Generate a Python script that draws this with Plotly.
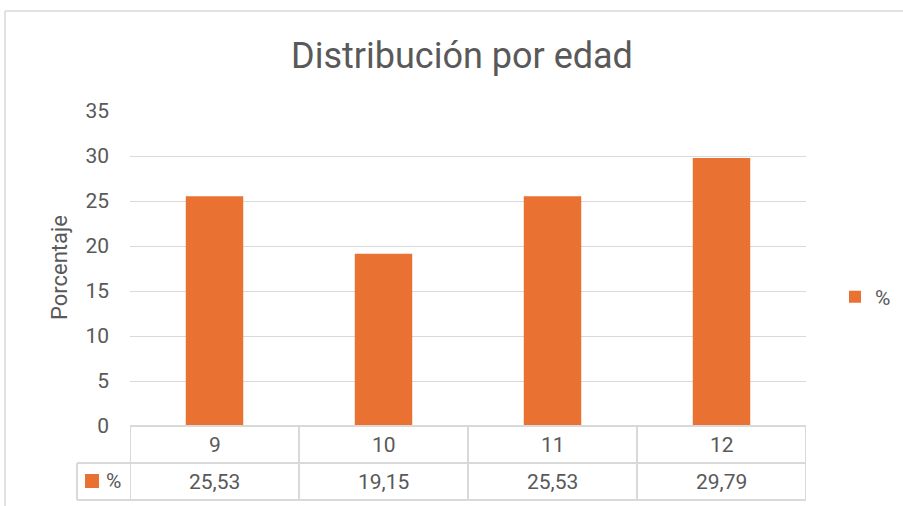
import plotly.graph_objects as go

# ---- data ----
categories = ["9", "10", "11", "12"]
values = [25.53, 19.15, 25.53, 29.79]
series_name = "%"
title_text = "Distribución por edad"
y_title = "Porcentaje"
y_ticks = [0, 5, 10, 15, 20, 25, 30, 35]

# ---- layout geometry (pixels) ----
W, H = 903, 506
L, R, T, B = 130, 806, 111, 426
FONT = "Roboto, 'Liberation Sans', sans-serif"
TXT = "#595959"
LINE = "#d9d9d9"
ORANGE = "#E97132"


def px(x):
    return (x - L) / (R - L)


def py(y):
    return (B - y) / (B - T)


fig = go.Figure()
fig.add_trace(go.Bar(x=categories, y=values, name=series_name,
                     marker=dict(color=ORANGE, line=dict(width=0)),
                     showlegend=True))

shapes = []
annotations = []

# chart border (cropped box)
shapes.append(dict(type="line", xref="paper", yref="paper", x0=px(5), x1=px(W + 5), y0=py(11), y1=py(11),
                   line=dict(color=LINE, width=1.5)))
shapes.append(dict(type="line", xref="paper", yref="paper", x0=px(5), x1=px(5), y0=py(11), y1=py(H + 5),
                   line=dict(color=LINE, width=1.5)))

# data table lines
row1, row2, row3 = py(426), py(463), py(500)
shapes.append(dict(type="line", xref="paper", yref="paper", x0=px(130), x1=px(806), y0=row1, y1=row1,
                   line=dict(color=LINE, width=2)))
for yy in (row2, row3):
    shapes.append(dict(type="line", xref="paper", yref="paper", x0=px(77), x1=px(806), y0=yy, y1=yy,
                       line=dict(color=LINE, width=2)))
for i in range(len(categories) + 1):
    shapes.append(dict(type="line", xref="x", yref="paper", x0=i - 0.5, x1=i - 0.5, y0=row1, y1=row3,
                       line=dict(color=LINE, width=2)))
shapes.append(dict(type="line", xref="paper", yref="paper", x0=px(77), x1=px(77), y0=row2, y1=row3,
                   line=dict(color=LINE, width=2)))
# legend key in table
shapes.append(dict(type="rect", xref="paper", yref="paper", x0=px(85), x1=px(99), y0=py(488), y1=py(474),
                   fillcolor=ORANGE, line=dict(width=0)))
annotations.append(dict(xref="paper", yref="paper", x=px(113), y=py(481), text=series_name, showarrow=False,
                        font=dict(family=FONT, size=21, color=TXT), xanchor="center", yanchor="middle"))

for i, (c, v) in enumerate(zip(categories, values)):
    annotations.append(dict(xref="x", yref="paper", x=i, y=py(444.5), text=c, showarrow=False,
                            font=dict(family=FONT, size=21, color=TXT), xanchor="center", yanchor="middle"))
    annotations.append(dict(xref="x", yref="paper", x=i, y=py(481.5), text=f"{v:.2f}".replace(".", ","),
                            showarrow=False, font=dict(family=FONT, size=21, color=TXT),
                            xanchor="center", yanchor="middle"))

# y-axis title
annotations.append(dict(xref="paper", yref="paper", x=px(59), y=py(268), text=y_title, textangle=-90,
                        showarrow=False, font=dict(family=FONT, size=22, color=TXT),
                        xanchor="center", yanchor="middle"))

fig.update_layout(
    width=W, height=H,
    margin=dict(l=L, r=W - R, t=T, b=H - B, pad=0, autoexpand=False),
    paper_bgcolor="white", plot_bgcolor="white",
    separators=",.",
    title=dict(text=title_text, x=0.5 * (290 + 634) / W, xanchor="center", y=1 - 55 / H, yanchor="middle",
               font=dict(family=FONT, size=36, color=TXT)),
    bargap=0.66,
    xaxis=dict(range=[-0.5, len(categories) - 0.5], showticklabels=False, showgrid=False,
               zeroline=False, showline=False, ticks=""),
    yaxis=dict(range=[0, 35], tickvals=y_ticks, showgrid=True, gridcolor=LINE, gridwidth=1,
               zeroline=False, showline=False, ticks="", ticklabelstandoff=20,
               tickfont=dict(family=FONT, size=21, color=TXT)),
    legend=dict(x=px(835), y=py(297), xanchor="left", yanchor="middle",
                font=dict(family=FONT, size=21, color=TXT), bgcolor="rgba(0,0,0,0)",
                itemwidth=30),
    shapes=shapes,
    annotations=annotations,
    font=dict(family=FONT, color=TXT),
)

fig.write_html("out.html", config={"displayModeBar": False},
               post_script="document.body.style.margin='0';document.body.style.overflow='hidden';")
